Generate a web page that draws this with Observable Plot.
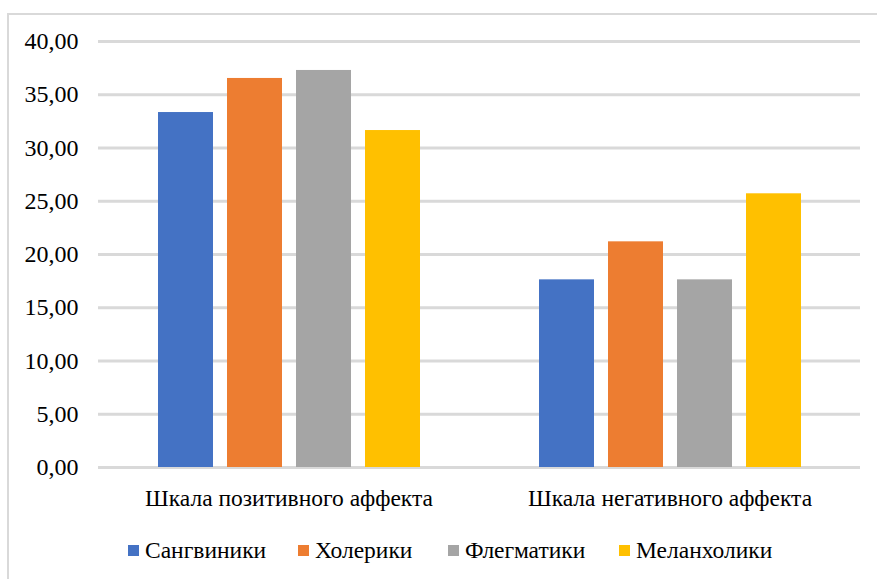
<!DOCTYPE html>
<html>
<head>
<meta charset="utf-8">
<script src="https://cdn.jsdelivr.net/npm/d3@7"></script>
<script src="https://cdn.jsdelivr.net/npm/@observablehq/plot@0.6"></script>
<style>
  body { margin: 0; background: #fff; }
  #chart { position: relative; width: 877px; height: 579px; overflow: hidden; font-family: "Liberation Serif", "Times New Roman", serif; }
  #frame { position: absolute; left: 7px; top: 13px; width: 900px; height: 600px; border: 2px solid #d9d9d9; box-sizing: border-box; }
  #plot { position: absolute; left: 0; top: 0; }
  #plot svg text { font-family: "Liberation Serif", "Times New Roman", serif; font-variant: normal; }
  #legend { position: absolute; top: 535px; left: 0; width: 877px; height: 30px; }
  .item { position: absolute; top: 0; display: flex; align-items: center; font-size: 23.5px; color: #000; line-height: 30px; }
  .sw { width: 11px; height: 11px; margin-right: 6px; }
</style>
</head>
<body>
<div id="chart">
  <div id="frame"></div>
  <div id="plot"></div>
  <div id="legend"></div>
</div>
<script>
// Scales on the x axis (facets) and temperament types (bars in each facet)
const categories = ["Шкала позитивного аффекта", "Шкала негативного аффекта"];
const groups = ["Сангвиники", "Холерики", "Флегматики", "Меланхолики"];
const positive = [33.33, 36.53, 37.28, 31.64];
const negative = [17.62, 21.19, 17.62, 25.70];
const colors = ["#4472c4", "#ed7d31", "#a5a5a5", "#ffc000"];
const yTicks = [0, 5, 10, 15, 20, 25, 30, 35, 40];

const rows = [];
groups.forEach((g, i) => {
  rows.push({category: categories[0], group: g, value: positive[i]});
  rows.push({category: categories[1], group: g, value: negative[i]});
});

const fmt = v => v.toFixed(2).replace(".", ",");
const serif = '"Liberation Serif", "Times New Roman", serif';

const chart = Plot.plot({
  width: 877,
  height: 520,
  marginTop: 41,
  marginLeft: 97,
  marginRight: 17,
  marginBottom: 53,
  style: {fontFamily: serif, color: "#000", background: "transparent"},
  fx: {domain: categories, padding: 0, label: null},
  x: {domain: groups, paddingInner: 0.21, paddingOuter: 0.85, axis: null},
  y: {domain: [0, 40], label: null},
  color: {domain: groups, range: colors},
  marks: [
    Plot.ruleY(yTicks, {stroke: "#d9d9d9", strokeWidth: 3}),
    Plot.barY(rows, {fx: "category", x: "group", y: "value", fill: "group"}),
    Plot.axisY(yTicks, {tickSize: 0, tickPadding: 20, tickFormat: fmt, label: null, fontSize: 24, fontFamily: serif, fontVariant: "normal"}),
    Plot.axisFx({anchor: "bottom", tickSize: 0, tickPadding: 22, label: null, fontSize: 23.5, fontFamily: serif})
  ]
});
document.getElementById("plot").appendChild(chart);

// Legend below the plot
const legendPos = [128, 298, 448, 619];
const legend = document.getElementById("legend");
groups.forEach((g, i) => {
  const item = document.createElement("div");
  item.className = "item";
  item.style.left = legendPos[i] + "px";
  const sw = document.createElement("div");
  sw.className = "sw";
  sw.style.background = colors[i];
  item.appendChild(sw);
  item.appendChild(document.createTextNode(g));
  legend.appendChild(item);
});
</script>
</body>
</html>
